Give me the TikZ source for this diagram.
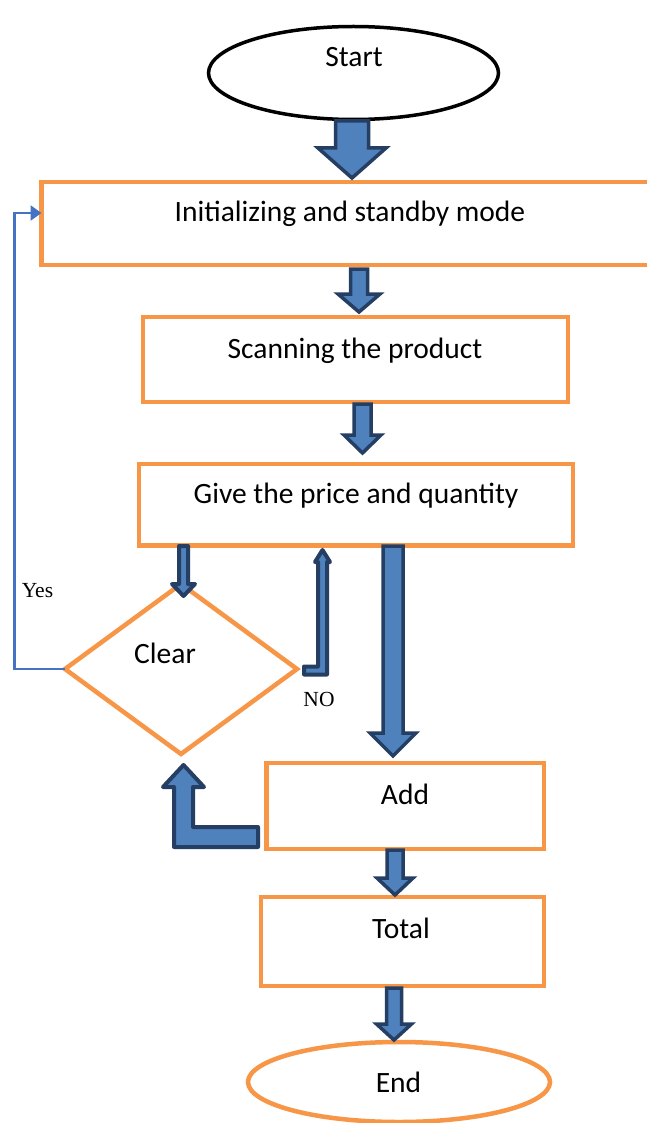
\documentclass[tikz,border=0pt]{standalone}
\usepackage{fontspec}
\setmainfont{Carlito}
\newfontfamily\timesf{Liberation Serif}
\usetikzlibrary{shapes.geometric,arrows.meta,calc}
\definecolor{borange}{HTML}{F79646}
\definecolor{bdark}{HTML}{253E63}
\definecolor{bfill}{HTML}{4F81BD}
\definecolor{bline}{HTML}{4472C4}
\newcommand\vblock[6]{\draw[blockarrow] (#1-#4,#2) -- (#1+#4,#2) -- (#1+#4,#3-#6) -- (#1+#5,#3-#6) -- (#1,#3) -- (#1-#5,#3-#6) -- (#1-#4,#3-#6) -- cycle;}
\begin{document}
\begin{tikzpicture}[x=1pt,y=-1pt,
  box/.style={draw=borange,line width=4.5pt,rectangle,inner sep=0pt,outer sep=0pt},
  txt/.style={font=\fontsize{29.5}{34}\selectfont,inner sep=0pt,anchor=base},
  lab/.style={font=\timesf\fontsize{21.5}{24}\selectfont,inner sep=0pt,anchor=base},
  blockarrow/.style={draw=bdark,fill=bfill,line width=3.5pt,line join=miter},
  thinblock/.style={draw=bdark,fill=bfill,line width=4pt,line join=round}]
\useasboundingbox[fill=white] (0,0) rectangle (647,1123);
% shapes
\node[draw=black,line width=3.5pt,ellipse,minimum width=290pt,minimum height=93pt,inner sep=0pt] (start) at (353.5,73) {};
\node[box,minimum width=608.5pt,minimum height=83pt] (b1) at (345.75,223.5) {};
\node[box,minimum width=425pt,minimum height=85pt] (b2) at (355.5,359.5) {};
\node[box,minimum width=434pt,minimum height=81.5pt] (b3) at (356,504.75) {};
\node[draw=borange,line width=4.5pt,diamond,minimum width=232pt,minimum height=170pt,inner sep=0pt,outer sep=0pt] (clr) at (181,669) {};
\node[box,minimum width=277.5pt,minimum height=86pt] (add) at (405.25,806) {};
\node[box,minimum width=283pt,minimum height=89pt] (tot) at (402.5,941.5) {};
\node[draw=borange,line width=4.5pt,ellipse,minimum width=302pt,minimum height=80pt,inner sep=0pt] (end) at (399,1082) {};
\coordinate (yin) at (41.5,213);
% texts
\node[txt] (tstart) at (354,67) {Start};
\node[txt] (tb1) at (350,222) {Initializing and standby mode};
\node[txt] (tb2) at (355,358) {Scanning the product};
\node[txt] (tb3) at (356,503) {Give the price and quantity};
\node[txt] (tclr) at (165,663) {Clear};
\node[txt] (tadd) at (405,804) {Add};
\node[txt] (ttot) at (401,938) {Total};
\node[txt] (tend) at (398.5,1092) {End};
\node[lab] (tyes) at (37.5,597) {Yes};
\node[lab] (tno) at (319,706) {NO};
% block arrows
\vblock{352}{121}{178}{16.5}{34}{30}
\vblock{359}{269}{312}{8.5}{21}{18}
\vblock{362.5}{404}{453}{8.5}{18.5}{18}
\vblock{393}{546}{756}{10}{23}{23}
\vblock{395}{850}{895}{8}{18}{17}
\vblock{394}{988}{1040}{7.5}{17.5}{16}
\draw[thinblock] (183.5-4.5,546) -- (183.5+4.5,546) -- (183.5+4.5,584) -- (183.5+11.5,584) -- (183.5,596) -- (183.5-11.5,584) -- (183.5-4.5,584) -- cycle;
% NO arrow (bent up)
\draw[thinblock] (304,674.5) -- (327,674.5) -- (327,562) -- (330,562) -- (322.5,550) -- (315,562) -- (318,562) -- (318,666.5) -- (304,666.5) -- cycle;
% Add -> Clear bent arrow
\draw[blockarrow,line width=4pt,line join=round] (174,847) -- (258,847) -- (258,827) -- (193,827) -- (193,787) -- (204,787) -- (183.5,765) -- (163,787) -- (174,787) -- cycle;
% Yes loop
\draw[bline,line width=2.5pt,-{Triangle[length=11pt,width=15pt]}] (clr.west) -- (14.5,669) |- (yin);
\end{tikzpicture}
\end{document}
